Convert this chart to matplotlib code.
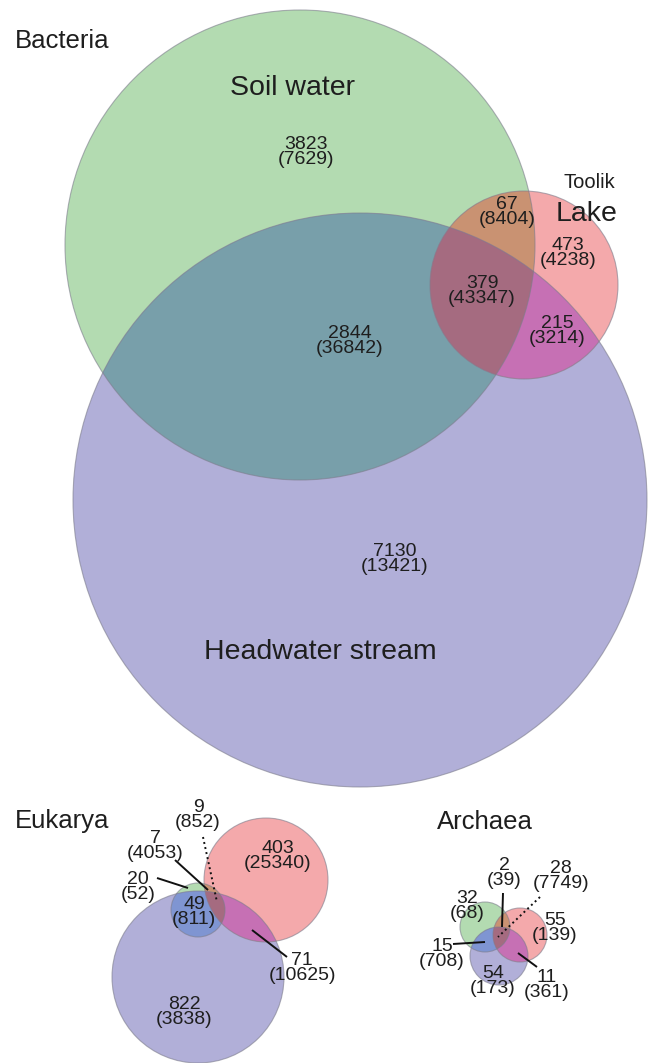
import numpy as np
import matplotlib
matplotlib.use('Agg')
from matplotlib import pyplot as plt
from matplotlib.patches import Circle, Polygon

plt.rcParams['font.family'] = ['Liberation Sans', 'DejaVu Sans']

# region order: A only, B only, C only, AB, AC, BC, ABC
# A = soil water (green), B = headwater stream (purple), C = Toolik Lake (red)
bact_otus = [3823, 7130, 473, 2844, 67, 215, 379]
bact_seqs = [7629, 13421, 4238, 36842, 8404, 3214, 43347]
euk_otus = [20, 822, 403, 49, 7, 71, 9]
euk_seqs = [52, 3838, 25340, 811, 4053, 10625, 852]
arch_otus = [32, 54, 55, 15, 2, 11, 28]
arch_seqs = [68, 173, 139, 708, 39, 361, 7749]

# fill colours for each region, same order as above
region_cols = ['#b3dbb1', '#b1afd8', '#f4a9ab', '#789faa', '#c99272', '#c670b4', '#a56b80']
small_cols = ['#b3dbb1', '#b1afd8', '#f4a9ab', '#7f95d2', '#c99272', '#c670b4', '#a56b80']

W, H = 654, 1063
fig = plt.figure(figsize=(W / 100, H / 100), dpi=100)
ax = fig.add_axes([0, 0, 1, 1])
ax.set_xlim(0, W)
ax.set_ylim(H, 0)
ax.set_aspect('equal')
ax.axis('off')


def lens(c1, c2, n=720):
    # polygon of the overlap of two circles
    t = np.linspace(0, 2 * np.pi, n, endpoint=False)
    pts = []
    for a, b in [(c1, c2), (c2, c1)]:
        x = a[0] + a[2] * np.cos(t)
        y = a[1] + a[2] * np.sin(t)
        keep = (x - b[0]) ** 2 + (y - b[1]) ** 2 <= b[2] ** 2
        pts.append(np.column_stack([x[keep], y[keep]]))
    pts = np.vstack(pts)
    m = pts.mean(axis=0)
    ang = np.arctan2(pts[:, 1] - m[1], pts[:, 0] - m[0])
    return pts[np.argsort(ang)]


def venn3(circles, cols):
    A, B, C = circles
    # single sets
    for c, col in zip(circles, cols[:3]):
        ax.add_patch(Circle(c[:2], c[2], fc=col, ec='none'))
    # pairwise overlaps
    for (i, j), col in zip([(0, 1), (0, 2), (1, 2)], cols[3:6]):
        clip = Circle(circles[i][:2], circles[i][2], transform=ax.transData)
        p = Circle(circles[j][:2], circles[j][2], fc=col, ec='none')
        ax.add_patch(p)
        p.set_clip_path(clip)
    # triple overlap
    clip = Polygon(lens(A, B), closed=True, transform=ax.transData)
    p = Circle(C[:2], C[2], fc=cols[6], ec='none')
    ax.add_patch(p)
    p.set_clip_path(clip)
    for c in circles:
        ax.add_patch(Circle(c[:2], c[2], fc='none', ec='#7d7d8c', lw=0.8, alpha=0.6))


def counts(otus, seqs, pos, fs=14):
    for o, s, (x, y) in zip(otus, seqs, pos):
        ax.text(x, y, '%d\n(%d)' % (o, s), ha='center', va='center',
                fontsize=fs, linespacing=0.84, color='#1e1e1e')


def leaders(segs):
    for (x0, y0), (x1, y1), ls in segs:
        ax.plot([x0, x1], [y0, y1], color='#111111', lw=1.4, ls=ls,
                solid_capstyle='butt')


# Bacteria
bact_circles = [(300, 245, 235), (360, 500, 287), (524, 285, 94)]
venn3(bact_circles, region_cols)
counts(bact_otus, bact_seqs,
       [(306, 152), (395, 559), (568, 253), (350, 341), (507, 212), (557, 331), (482, 291)])
ax.text(15, 41, 'Bacteria', fontsize=18.5, va='center', color='#1e1e1e')
ax.text(292, 88, 'Soil water', fontsize=20.5, ha='center', va='center', color='#1e1e1e')
ax.text(589, 182, 'Toolik', fontsize=14.5, ha='center', va='center', color='#1e1e1e')
ax.text(587, 214, 'Lake', fontsize=20.5, ha='center', va='center', color='#1e1e1e')
ax.text(320, 652, 'Headwater stream', fontsize=20.5, ha='center', va='center', color='#1e1e1e')

# Eukarya
euk_circles = [(198, 910, 27), (198, 977, 86), (266, 880, 62)]
venn3(euk_circles, small_cols)
counts(euk_otus, euk_seqs,
       [(138, 887), (184, 1012), (278, 856), (194, 912), (155, 846), (302, 968), (198, 815)])
leaders([((157, 878), (188, 888), '-'),
         ((175, 860), (208, 890), '-'),
         ((203, 837), (217, 902), ':'),
         ((252, 930), (287, 957), '-')])
ax.text(15, 821, 'Eukarya', fontsize=18.5, va='center', color='#1e1e1e')

# Archaea
arch_circles = [(485, 927, 25), (499, 956, 29), (520, 935, 27)]
venn3(arch_circles, small_cols)
counts(arch_otus, arch_seqs,
       [(467, 906), (493, 981), (555, 928), (442, 954), (504, 873), (547, 985), (561, 876)])
leaders([((503, 893), (502, 927), '-'),
         ((540, 897), (498, 937), ':'),
         ((453, 944), (485, 942), '-'),
         ((518, 953), (537, 967), '-')])
ax.text(485, 822, 'Archaea', fontsize=18.5, ha='center', va='center', color='#1e1e1e')

fig.savefig('out.png', dpi=100)
